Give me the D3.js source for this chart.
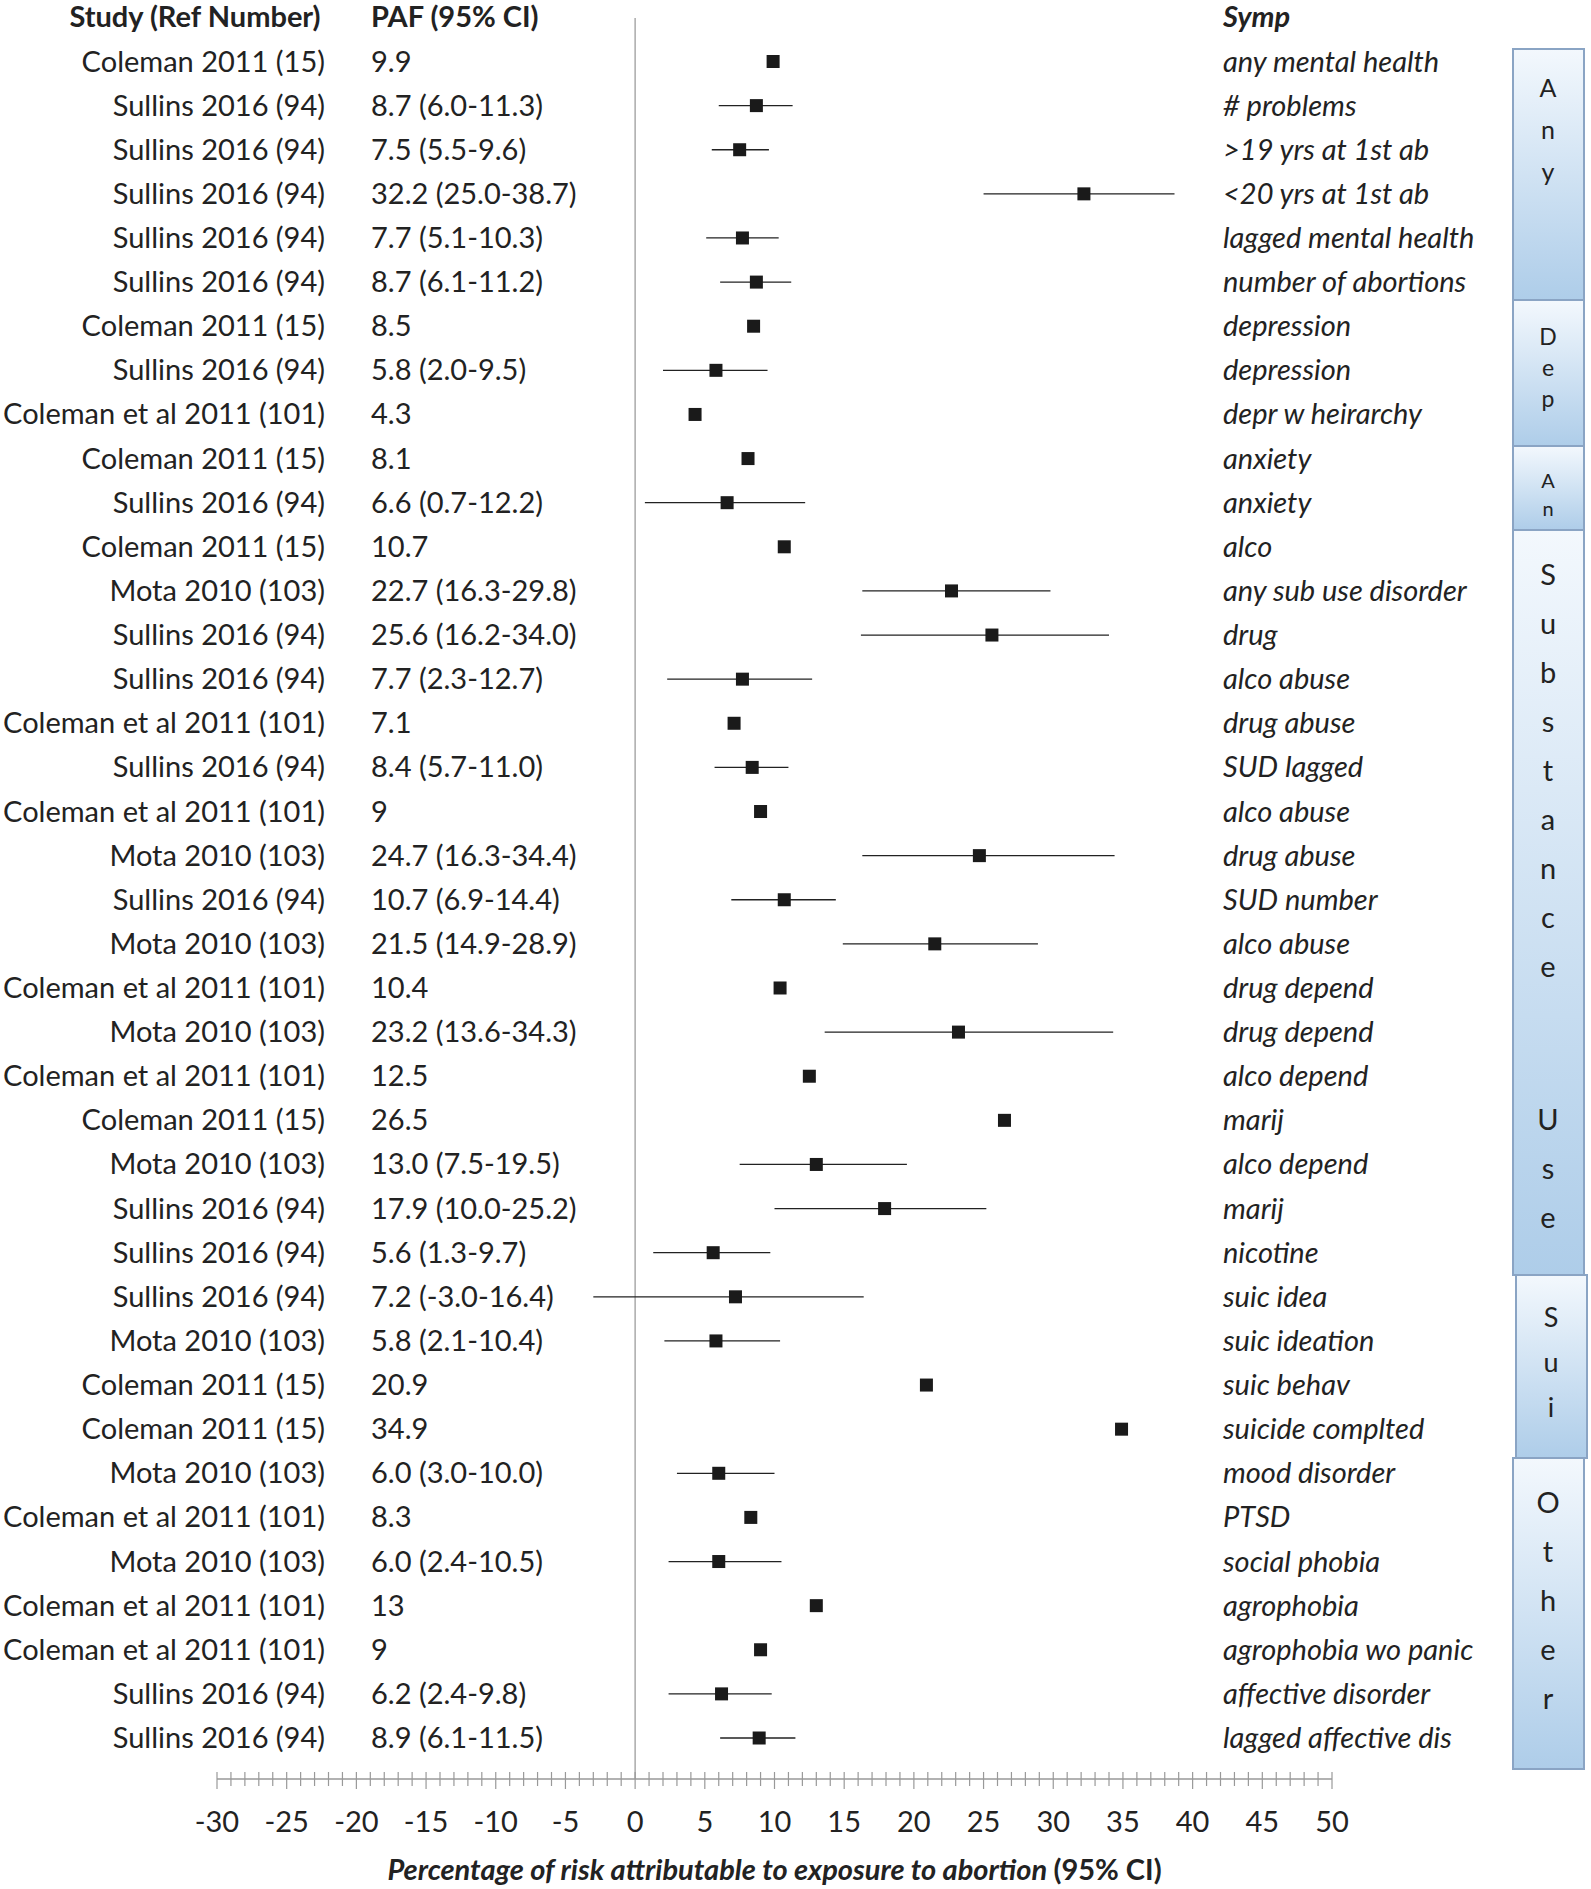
<!DOCTYPE html><html><head><meta charset="utf-8"><script src="https://cdn.jsdelivr.net/npm/d3@7"></script>
<style>body{margin:0;background:#fff}text{font-family:Lato,"Open Sans",sans-serif}</style></head><body><svg id="c" width="1591" height="1889"></svg>
<script>
const studies=["Coleman 2011 (15)","Sullins 2016 (94)","Sullins 2016 (94)","Sullins 2016 (94)","Sullins 2016 (94)","Sullins 2016 (94)","Coleman 2011 (15)","Sullins 2016 (94)","Coleman et al 2011 (101)","Coleman 2011 (15)","Sullins 2016 (94)","Coleman 2011 (15)","Mota 2010 (103)","Sullins 2016 (94)","Sullins 2016 (94)","Coleman et al 2011 (101)","Sullins 2016 (94)","Coleman et al 2011 (101)","Mota 2010 (103)","Sullins 2016 (94)","Mota 2010 (103)","Coleman et al 2011 (101)","Mota 2010 (103)","Coleman et al 2011 (101)","Coleman 2011 (15)","Mota 2010 (103)","Sullins 2016 (94)","Sullins 2016 (94)","Sullins 2016 (94)","Mota 2010 (103)","Coleman 2011 (15)","Coleman 2011 (15)","Mota 2010 (103)","Coleman et al 2011 (101)","Mota 2010 (103)","Coleman et al 2011 (101)","Coleman et al 2011 (101)","Sullins 2016 (94)","Sullins 2016 (94)"];
const pafLabels=["9.9","8.7 (6.0-11.3)","7.5 (5.5-9.6)","32.2 (25.0-38.7)","7.7 (5.1-10.3)","8.7 (6.1-11.2)","8.5","5.8 (2.0-9.5)","4.3","8.1","6.6 (0.7-12.2)","10.7","22.7 (16.3-29.8)","25.6 (16.2-34.0)","7.7 (2.3-12.7)","7.1","8.4 (5.7-11.0)","9","24.7 (16.3-34.4)","10.7 (6.9-14.4)","21.5 (14.9-28.9)","10.4","23.2 (13.6-34.3)","12.5","26.5","13.0 (7.5-19.5)","17.9 (10.0-25.2)","5.6 (1.3-9.7)","7.2 (-3.0-16.4)","5.8 (2.1-10.4)","20.9","34.9","6.0 (3.0-10.0)","8.3","6.0 (2.4-10.5)","13","9","6.2 (2.4-9.8)","8.9 (6.1-11.5)"];
const paf=[9.9,8.7,7.5,32.2,7.7,8.7,8.5,5.8,4.3,8.1,6.6,10.7,22.7,25.6,7.7,7.1,8.4,9,24.7,10.7,21.5,10.4,23.2,12.5,26.5,13.0,17.9,5.6,7.2,5.8,20.9,34.9,6.0,8.3,6.0,13,9,6.2,8.9];
const lo=[null,6.0,5.5,25.0,5.1,6.1,null,2.0,null,null,0.7,null,16.3,16.2,2.3,null,5.7,null,16.3,6.9,14.9,null,13.6,null,null,7.5,10.0,1.3,-3.0,2.1,null,null,3.0,null,2.4,null,null,2.4,6.1];
const hi=[null,11.3,9.6,38.7,10.3,11.2,null,9.5,null,null,12.2,null,29.8,34.0,12.7,null,11.0,null,34.4,14.4,28.9,null,34.3,null,null,19.5,25.2,9.7,16.4,10.4,null,null,10.0,null,10.5,null,null,9.8,11.5];
const symp=["any mental health","# problems",">19 yrs at 1st ab","<20 yrs at 1st ab","lagged mental health","number of abortions","depression","depression","depr w heirarchy","anxiety","anxiety","alco","any sub use disorder","drug","alco abuse","drug abuse","SUD lagged","alco abuse","drug abuse","SUD number","alco abuse","drug depend","drug depend","alco depend","marij","alco depend","marij","nicotine","suic idea","suic ideation","suic behav","suicide complted","mood disorder","PTSD","social phobia","agrophobia","agrophobia wo panic","affective disorder","lagged affective dis"];
const groups=[{t:"Any",y0:49,y1:300,fs:25,sp:42,ty:88},{t:"Dep",y0:300,y1:446,fs:23,sp:31,ty:337},{t:"An",y0:446,y1:530,fs:20,sp:28,ty:481},{t:"Substance",y0:530,y1:1275,fs:29,sp:49,ty:575,extra:"Use",ey:1120},{t:"Sui",y0:1275,y1:1458,fs:27,sp:45,ty:1318,dx:3},{t:"Other",y0:1458,y1:1769,fs:29,sp:49,ty:1503}];
const ticks=d3.range(-30,51,5);

const svg=d3.select("#c");
const x=d3.scaleLinear().domain([-30,50]).range([217,1332]);
const y=d3.scaleLinear().domain([0,38]).range([61.5,1738]);
const defs=svg.append("defs");
const g=defs.append("linearGradient").attr("id","gr").attr("x1",0).attr("y1",0).attr("x2",0).attr("y2",1);
g.append("stop").attr("offset","0").attr("stop-color","#f3f8fd");
g.append("stop").attr("offset","1").attr("stop-color","#aecde9");
const FS=29;
svg.append("line").attr("x1",x(0)).attr("x2",x(0)).attr("y1",18).attr("y2",1779).attr("stroke","#aaa").attr("stroke-width",1.5);
svg.append("text").attr("x",195).attr("y",27).attr("text-anchor","middle").attr("font-size",FS).attr("font-weight","bold").attr("fill","#222").text("Study (Ref Number)");
svg.append("text").attr("x",371).attr("y",27).attr("font-size",FS).attr("font-weight","bold").attr("fill","#222").text("PAF (95% CI)");
svg.append("text").attr("x",1223).attr("y",27).attr("font-size",FS).attr("font-weight","bold").attr("font-style","italic").attr("fill","#222").text("Symp");
const idx=d3.range(paf.length);
const rows=svg.append("g").selectAll("g").data(idx).join("g");
rows.append("text").attr("x",325).attr("y",i=>y(i)+10).attr("text-anchor","end").attr("font-size",FS).attr("fill","#222").text(i=>studies[i]);
rows.append("text").attr("x",371).attr("y",i=>y(i)+10).attr("font-size",FS).attr("fill","#222").text(i=>pafLabels[i]);
rows.append("text").attr("x",1223).attr("y",i=>y(i)+10).attr("font-size",FS).attr("font-style","italic").attr("fill","#222").text(i=>symp[i]);
rows.filter(i=>lo[i]!==null).append("line").attr("x1",i=>x(lo[i])).attr("x2",i=>x(hi[i])).attr("y1",i=>y(i)).attr("y2",i=>y(i)).attr("stroke","#222").attr("stroke-width",1.3);
rows.append("rect").attr("x",i=>x(paf[i])-6.5).attr("y",i=>y(i)-6.5).attr("width",13).attr("height",13).attr("fill","#1a1a1a");
const ay=1779;
svg.append("line").attr("x1",x(-30)).attr("x2",x(50)).attr("y1",ay).attr("y2",ay).attr("stroke","#999").attr("stroke-width",1.5);
svg.append("g").selectAll("line").data(d3.range(-30,51,1)).join("line").attr("x1",d=>x(d)).attr("x2",d=>x(d)).attr("y1",ay-7).attr("y2",d=>d%5===0?ay+10:ay+7).attr("stroke","#999").attr("stroke-width",1.2);
svg.append("g").selectAll("text").data(ticks).join("text").attr("x",d=>x(d)).attr("y",1832).attr("text-anchor","middle").attr("font-size",FS).attr("fill","#222").text(d=>d);
svg.append("text").attr("x",(x(-30)+x(50))/2).attr("y",1880).attr("text-anchor","middle").attr("font-size",FS).attr("font-weight","bold").attr("font-style","italic").attr("fill","#222").text("Percentage of risk attributable to exposure to abortion ").append("tspan").attr("font-style","normal").text("(95% CI)");
const bg=svg.append("g").selectAll("g").data(groups).join("g");
bg.append("rect").attr("x",d=>1513+(d.dx||0)).attr("y",d=>d.y0).attr("width",71).attr("height",d=>d.y1-d.y0).attr("fill","url(#gr)").attr("stroke","#8aa4c4").attr("stroke-width",2);
bg.each(function(d){
  const s=d3.select(this);
  const cx=1548+(d.dx||0);
  d.t.split("").forEach((c,k)=>s.append("text").attr("x",cx).attr("y",d.ty+k*d.sp+d.fs*0.35).attr("text-anchor","middle").attr("font-size",d.fs).attr("fill","#222").text(c));
  if(d.extra)d.extra.split("").forEach((c,k)=>s.append("text").attr("x",cx).attr("y",d.ey+k*d.sp+d.fs*0.35).attr("text-anchor","middle").attr("font-size",d.fs).attr("fill","#222").text(c));
});
</script></body></html>
